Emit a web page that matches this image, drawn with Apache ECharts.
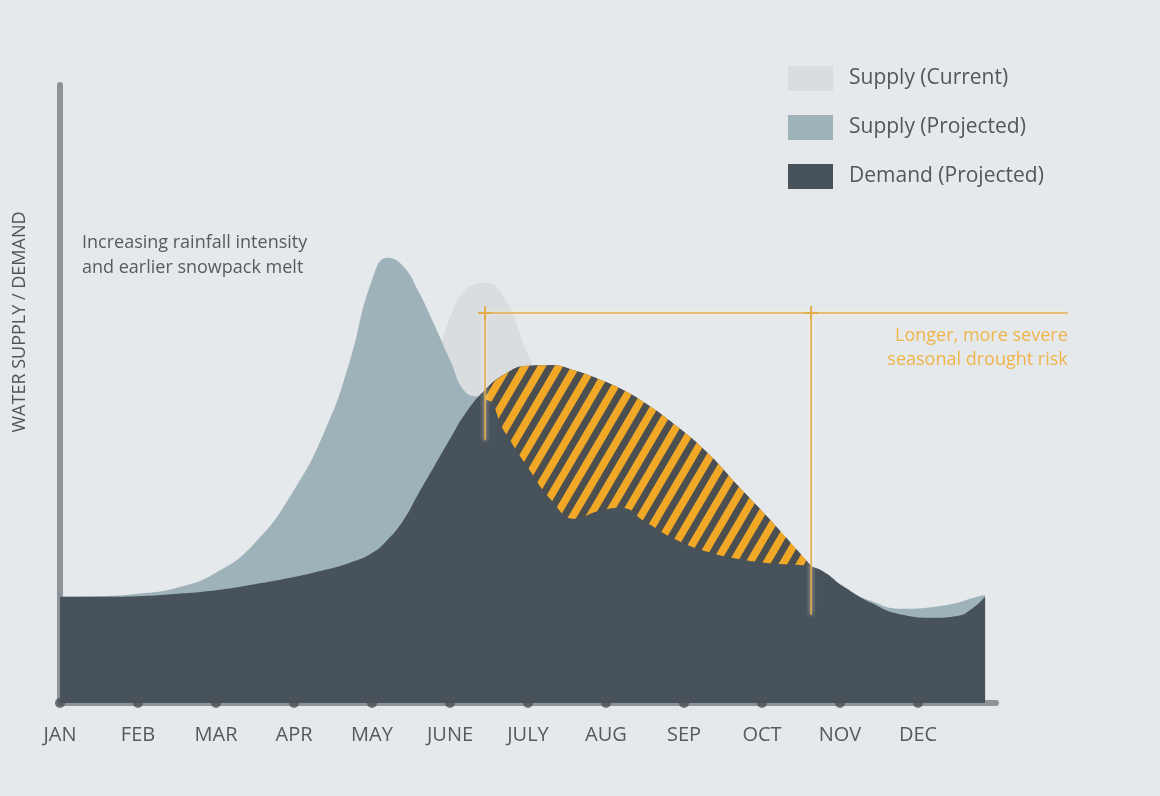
<!DOCTYPE html>
<html>
<head>
<meta charset="utf-8">
<script src="https://cdn.jsdelivr.net/npm/echarts@6/dist/echarts.min.js"></script>
<style>
html,body{margin:0;padding:0;background:#e6e9ec;}
#chart{width:1160px;height:796px;}
</style>
</head>
<body>
<div id="chart"></div>
<script>
// ---- data ----
const months = ['JAN','FEB','MAR','APR','MAY','JUNE','JULY','AUG','SEP','OCT','NOV','DEC'];
// sample positions along the year (0 = start of JAN, 1 = FEB ...)
const monthPos = [0, 0.5, 1, 1.5, 2, 2.5, 3, 3.4, 3.7, 4.0, 4.2, 4.4, 4.6, 4.8, 5.0, 5.2, 5.45, 5.7, 6.0, 6.3, 6.6, 6.9, 7.2, 7.5, 7.9, 8.3, 8.7, 9.1, 9.63, 10.0, 10.4, 10.8, 11.2, 11.5, 11.7, 11.86];
const supplyCurrent = [17.5, 17.5, 17.7, 17.8, 18.2, 18.8, 20.0, 21.3, 23.0, 25.0, 27.5, 33.5, 44.0, 55.5, 64.2, 68.8, 70.0, 67.5, 58.0, 49.7, 43.0, 38.5, 35.2, 33.0, 30.2, 27.7, 25.5, 23.8, 20.8, 18.2, 16.2, 14.7, 13.8, 13.8, 14.7, 16.3];
const supplyProjected = [17.7, 17.8, 18.2, 19.2, 21.7, 26.7, 35.5, 45.5, 56.3, 70.5, 74.2, 72.8, 68.5, 63.0, 57.2, 51.8, 50.5, 45.2, 39.2, 33.8, 30.7, 32.0, 32.5, 30.2, 27.2, 25.2, 24.0, 23.3, 22.7, 19.6, 17.0, 15.7, 16.0, 16.7, 17.5, 18.0];
const demandProjected = [17.7, 17.7, 17.8, 18.2, 18.8, 19.8, 21.0, 22.2, 23.3, 25.0, 27.2, 30.4, 35.0, 39.5, 44.0, 48.3, 52.2, 54.8, 56.2, 56.3, 55.4, 54.0, 52.3, 50.0, 46.2, 41.7, 36.1, 30.6, 22.9, 19.8, 16.7, 14.7, 14.2, 14.5, 15.8, 17.7];
// drought window
const hatchStart = 5.45, hatchEnd = 9.63;
const droughtLevel = 65, droughtLineEnd = 12.92, leftDropTo = 43.8, rightDropTo = 14.7;
const legendNames = ['Supply (Current)', 'Supply (Projected)', 'Demand (Projected)'];

// ---- helpers ----
const pairs = (vals) => monthPos.map((x, i) => [x, vals[i]]);
const winIdx = monthPos.map((x, i) => i).filter(i => monthPos[i] >= hatchStart - 1e-9 && monthPos[i] <= hatchEnd + 1e-9);
const gapTop = winIdx.map(i => [monthPos[i], demandProjected[i]]);
// area under the gap: lower of supply/demand, one sample wider on each side
const lo = Math.max(0, winIdx[0] - 1), hi = Math.min(monthPos.length - 1, winIdx[winIdx.length - 1] + 1);
const gapUnder = [];
for (let i = lo; i <= hi; i++) gapUnder.push([monthPos[i], Math.min(demandProjected[i], supplyProjected[i])]);

// stripe pattern
const pw = 17, ph = 29;
const pc = document.createElement('canvas');
pc.width = pw; pc.height = ph;
const g = pc.getContext('2d');
g.fillStyle = '#f0a826';
g.fillRect(0, 0, pw, ph);
g.strokeStyle = '#4c4f50';
g.lineWidth = 7;
for (let k = -2; k <= 2; k++) {
  g.beginPath();
  g.moveTo(k * pw - pw, ph * 2);
  g.lineTo(k * pw + pw * 2, -ph);
  g.stroke();
}

const DARK = '#48525b', BLUE = '#9eb2ba', LIGHT = '#dadde0';
const FONT = 'Open Sans';

const chart = echarts.init(document.getElementById('chart'));
const areaSeries = (name, data, color, z) => ({
  name, type: 'line', data, smooth: 0.5, showSymbol: false, symbol: 'none', z,
  lineStyle: { width: 0, color }, itemStyle: { color },
  areaStyle: { color, opacity: 1 }, silent: true
});

chart.setOption({
  backgroundColor: '#e6e9ec',
  animation: false,
  grid: { left: 60, right: 164, top: 85, bottom: 93 },
  legend: {
    data: legendNames, orient: 'vertical', left: 783, top: 61,
    itemWidth: 45, itemHeight: 25, itemGap: 24, icon: 'rect',
    textStyle: { fontFamily: FONT, fontSize: 21, color: '#52575b', padding: [0, 0, 0, 11] },
    selectedMode: false
  },
  xAxis: {
    type: 'value', min: 0, max: 12, interval: 1,
    axisLine: { show: true, lineStyle: { color: '#8e9397', width: 6 } },
    axisTick: { show: false }, splitLine: { show: false },
    axisLabel: {
      margin: 22, fontFamily: FONT, fontSize: 20, color: '#555a5e',
      formatter: v => months[v] || ''
    }
  },
  yAxis: {
    type: 'value', min: 0, max: 103,
    axisLine: { show: true, lineStyle: { color: '#8e9397', width: 6 } },
    axisTick: { show: false }, splitLine: { show: false }, axisLabel: { show: false }
  },
  series: [
    areaSeries(legendNames[0], pairs(supplyCurrent), LIGHT, 1),
    areaSeries(legendNames[1], pairs(supplyProjected), BLUE, 2),
    areaSeries(legendNames[2], pairs(demandProjected), DARK, 3),
    {
      name: 'drought-gap', type: 'line', data: gapTop, smooth: 0.5,
      showSymbol: false, symbol: 'none', z: 4, silent: true,
      lineStyle: { width: 0 }, areaStyle: { color: { image: pc, repeat: 'repeat' }, opacity: 1 }
    },
    areaSeries('gap-under', gapUnder, DARK, 5),
    {
      name: 'month-ticks', type: 'scatter', data: months.map((m, i) => [i, 0]),
      symbolSize: 10, itemStyle: { color: '#4a5159' }, z: 10, clip: false, silent: true
    }
  ]
});

// annotations anchored to data coordinates
const P = (x, y) => chart.convertToPixel({ gridIndex: 0 }, [x, y]);
const a = P(hatchStart, droughtLevel), b = P(hatchEnd, droughtLevel), e = P(droughtLineEnd, droughtLevel);
const aBot = P(hatchStart, leftDropTo), bBot = P(hatchEnd, rightDropTo);
const ORANGE = '#e2ac4c';
const lineStyle = { stroke: ORANGE, lineWidth: 1.6, shadowBlur: 4, shadowColor: 'rgba(255,245,215,0.9)' };
const spark = (p) => [
  { type: 'line', shape: { x1: p[0] - 7, y1: p[1], x2: p[0] + 7, y2: p[1] }, style: { stroke: ORANGE, lineWidth: 2 }, z: 20 },
  { type: 'line', shape: { x1: p[0], y1: p[1] - 7, x2: p[0], y2: p[1] + 7 }, style: { stroke: ORANGE, lineWidth: 2 }, z: 20 }
];
chart.setOption({
  graphic: [
    { type: 'line', shape: { x1: a[0], y1: a[1], x2: e[0], y2: e[1] }, style: lineStyle, z: 20 },
    { type: 'line', shape: { x1: a[0], y1: a[1], x2: aBot[0], y2: aBot[1] }, style: lineStyle, z: 20 },
    { type: 'line', shape: { x1: b[0], y1: b[1], x2: bBot[0], y2: bBot[1] }, style: lineStyle, z: 20 },
    ...spark(a), ...spark(b),
    { type: 'text', x: e[0], y: e[1] + 11, z: 20,
      style: { text: 'Longer, more severe\nseasonal drought risk', align: 'right', verticalAlign: 'top',
        fill: '#efb44a', font: '18px "Open Sans"', lineHeight: 24 } },
    { type: 'text', x: 82, y: 230, z: 20,
      style: { text: 'Increasing rainfall intensity\nand earlier snowpack melt', align: 'left', verticalAlign: 'top',
        fill: '#565b5f', font: '18px "Open Sans"', lineHeight: 25 } },
    { type: 'text', x: 20, y: 322, rotation: Math.PI / 2, z: 20,
      style: { text: 'WATER SUPPLY / DEMAND', align: 'center', verticalAlign: 'middle',
        fill: '#50555a', font: '18px "Open Sans"' } }
  ]
});
</script>
</body>
</html>
